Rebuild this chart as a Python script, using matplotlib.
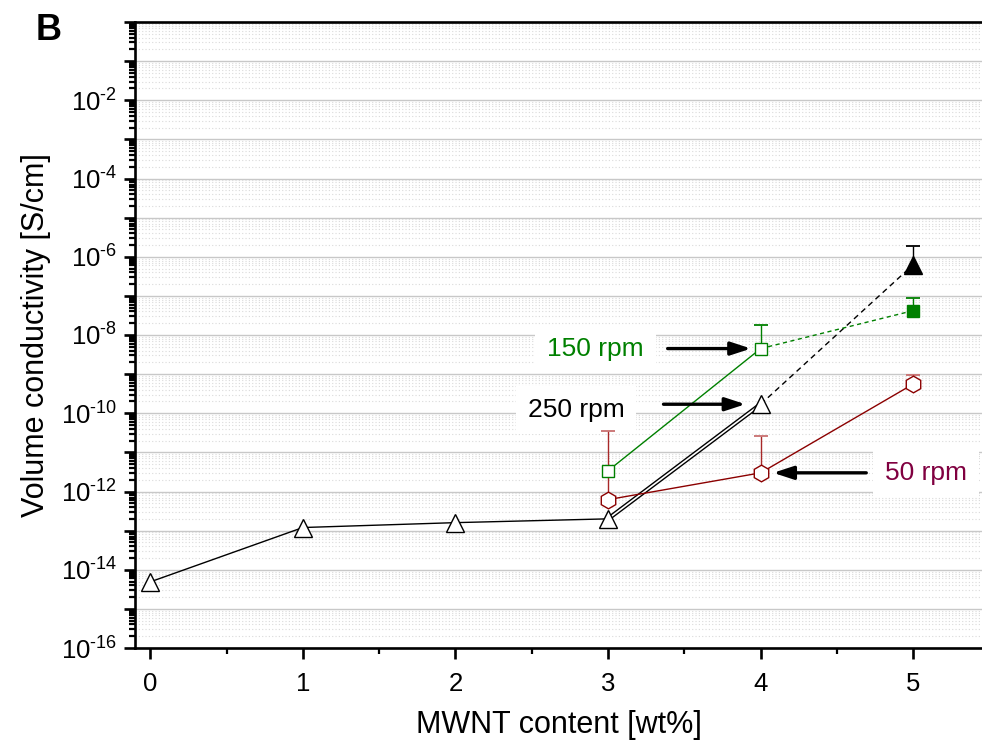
import math
import matplotlib
matplotlib.use("Agg")
import matplotlib.pyplot as plt
import matplotlib.patheffects as pe
from matplotlib.ticker import LogLocator, FixedLocator, NullFormatter, FuncFormatter, MultipleLocator

plt.rcParams['font.family'] = ['Liberation Sans', 'DejaVu Sans']
plt.rcParams['mathtext.fontset'] = 'custom'
plt.rcParams['mathtext.rm'] = 'Liberation Sans'
plt.rcParams['mathtext.it'] = 'Liberation Sans:italic'
plt.rcParams['mathtext.bf'] = 'Liberation Sans:bold'

# ---------------- data ----------------
x_250 = [0, 1, 2, 3, 4]
y_250 = [4.9e-15, 1.2e-13, 1.6e-13, 2.0e-13, 1.7e-10]
x_250_filled = [5]
y_250_filled = [6.3e-7]
err_250_filled_up = [1.3e-6]

x_150 = [3, 4]
y_150 = [3.4e-12, 4.5e-9]
err_150_up = [0.0, 1.35e-8]
x_150_filled = [5]
y_150_filled = [4.2e-8]
err_150_filled_up = [4.7e-8]

x_50 = [3, 4, 5]
y_50 = [6.2e-13, 3.0e-12, 5.6e-10]
err_50_up = [3.4e-11, 2.3e-11, 3.9e-10]

labels = ["150 rpm", "250 rpm", "50 rpm"]
xticks = [0, 1, 2, 3, 4, 5]

GREEN = '#008000'
RED = '#8b0000'
RED_ERR = '#a82828'
RED_CAP = '#c87070'
MAROON = '#800040'

fig = plt.figure(figsize=(9.82, 7.42), dpi=100)
ax = fig.add_axes([135/982, 1-648/742, 1-135/982, (648-22)/742])

ax.set_yscale('log')
ax.set_ylim(1e-16, 1e0)
ax.set_xlim(-0.1, 5.45)

# grid
ax.yaxis.set_major_locator(LogLocator(base=10, numticks=30))
ax.yaxis.set_minor_locator(LogLocator(base=10, subs=range(2, 10), numticks=30))
ax.grid(True, which='major', axis='y', color='#c8c8c8', lw=1.0, zorder=0)
ax.grid(True, which='minor', axis='y', color='#dadada', lw=0.8, ls=(0, (1, 2)), zorder=0)
ax.set_axisbelow(True)

def fmt(v, pos):
    e = int(round(math.log10(v)))
    if e % 2 == 0 and e < 0:
        return r'$10^{\text{-}%d}$' % (-e)
    return ''
ax.yaxis.set_major_formatter(FuncFormatter(fmt))
ax.yaxis.set_minor_formatter(NullFormatter())

ax.xaxis.set_major_locator(FixedLocator(xticks))
ax.xaxis.set_minor_locator(MultipleLocator(0.5))

# 250 rpm series
ax.plot(x_250[:4], y_250[:4], color='black', lw=1.0, zorder=3)
ax.plot(x_250[3:5], y_250[3:5], color='black', lw=1.0, zorder=3,
        path_effects=[pe.Stroke(linewidth=3.2, foreground='black'),
                      pe.Stroke(linewidth=1.2, foreground='white')])
ax.plot([x_250[4], x_250_filled[0]], [y_250[4], y_250_filled[0]],
        color='black', lw=1.0, ls=(0, (4, 3)), zorder=3)

# 150 rpm series
ax.plot(x_150, y_150, color=GREEN, lw=1.0, zorder=3)
ax.plot([x_150[1], x_150_filled[0]], [y_150[1], y_150_filled[0]],
        color=GREEN, lw=1.0, ls=(0, (3, 2.5)), zorder=3)

# 50 rpm series
ax.plot(x_50, y_50, color=RED, lw=1.0, zorder=3)

# error bars (upper only, cap on top only)
def upper_err(xs, ys, ups, color, capcolor):
    ax.errorbar(xs, ys, yerr=[[0] * len(xs), ups], fmt='none',
                ecolor=color, elinewidth=1.0, capsize=0, zorder=4)
    tops = [y + u for y, u in zip(ys, ups) if u > 0]
    xt = [x for x, u in zip(xs, ups) if u > 0]
    ax.plot(xt, tops, ls='none', marker='_', ms=10, mew=1.3, color=capcolor, zorder=4)

upper_err(x_250_filled, y_250_filled, err_250_filled_up, 'black', 'black')
upper_err(x_150, y_150, err_150_up, GREEN, GREEN)
upper_err(x_150_filled, y_150_filled, err_150_filled_up, GREEN, GREEN)
upper_err(x_50, y_50, err_50_up, RED_ERR, RED_CAP)

# markers
ax.plot(x_250, y_250, ls='none', marker='^', ms=13, mfc='white', mec='black', mew=1.0, zorder=5)
ax.plot(x_250_filled, y_250_filled, ls='none', marker='^', ms=13, mfc='black', mec='black', mew=1.0, zorder=5)
ax.plot(x_150, y_150, ls='none', marker='s', ms=9, mfc='white', mec=GREEN, mew=1.0, zorder=5)
ax.plot(x_150_filled, y_150_filled, ls='none', marker='s', ms=9, mfc=GREEN, mec=GREEN, mew=1.0, zorder=5)
ax.plot(x_50, y_50, ls='none', marker='h', ms=12, mfc='white', mec=RED, mew=1.0, zorder=5)

# annotations
arrow = dict(arrowstyle='-|>,head_length=0.55,head_width=0.18', color='black',
             lw=2.4, mutation_scale=22, shrinkA=0)
ax.annotate('', xy=(x_150[1], y_150[1]), xytext=(-67, 0), textcoords='offset points',
            arrowprops=dict(arrow, shrinkB=7), zorder=6)
ax.annotate('', xy=(x_250[4], y_250[4]), xytext=(-70, 0), textcoords='offset points',
            arrowprops=dict(arrow, shrinkB=11), zorder=6)
ax.annotate('', xy=(x_50[1], y_50[1]), xytext=(76, 0), textcoords='offset points',
            arrowprops=dict(arrow, shrinkB=9), zorder=6)

box = dict(boxstyle='square,pad=0.45', fc='white', ec='none')
ax.annotate(labels[0], xy=(x_150[1], y_150[1]), xytext=(-119, 0), textcoords='offset points',
            ha='center', va='center', fontsize=19, color=GREEN, bbox=box, zorder=2.5)
ax.annotate(labels[1], xy=(x_250[4], y_250[4]), xytext=(-133, -4), textcoords='offset points',
            ha='center', va='center', fontsize=19, color='black', bbox=box, zorder=2.5)
ax.annotate(labels[2], xy=(x_50[1], y_50[1]), xytext=(119, 0), textcoords='offset points',
            ha='center', va='center', fontsize=19, color=MAROON, bbox=box, zorder=2.5)

# spines and ticks
ax.spines['right'].set_visible(False)
for s in ['left', 'bottom', 'top']:
    ax.spines[s].set_linewidth(1.9)
ax.tick_params(axis='both', which='major', direction='out', length=8, width=1.9, labelsize=18.5, pad=5)
ax.tick_params(axis='both', which='minor', direction='out', length=4.5, width=1.6)
ax.tick_params(axis='x', which='major', pad=9)
ax.tick_params(top=False, right=False)

ax.set_xlabel('MWNT content [wt%]', fontsize=22, labelpad=10)
ax.set_ylabel('Volume conductivity [S/cm]', fontsize=22, labelpad=7)

fig.text(36/982, 1-40/742, 'B', fontsize=26, fontweight='bold', ha='left', va='baseline')

fig.savefig('out.png', dpi=100)
